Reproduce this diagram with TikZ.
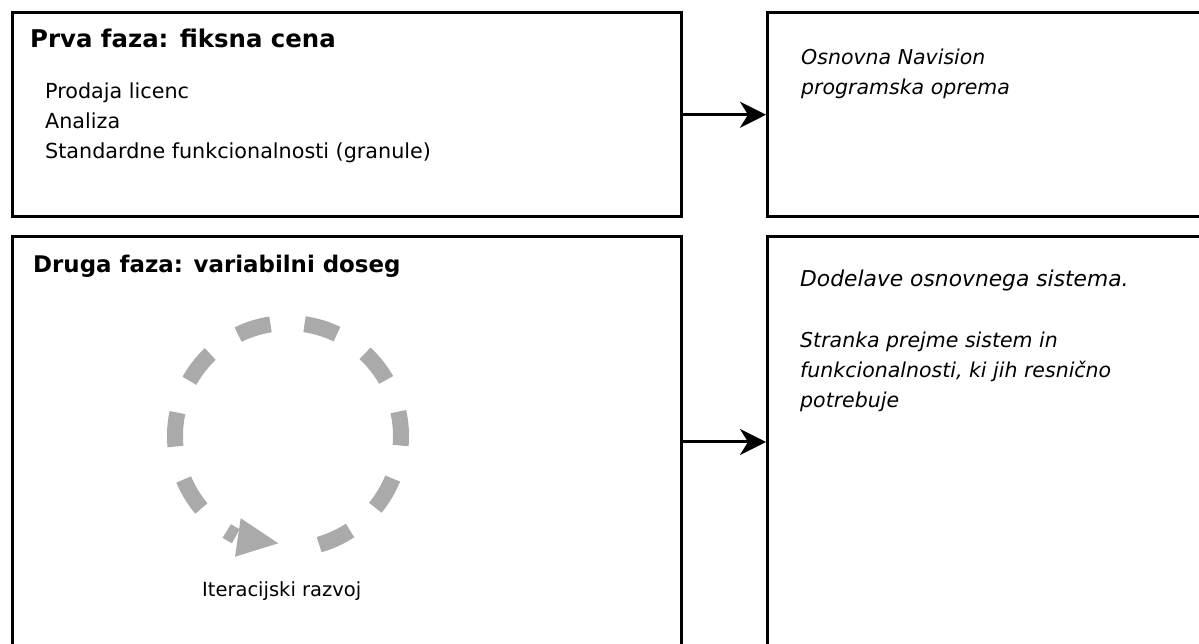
\documentclass[tikz,border=0pt]{standalone}
\usepackage{fontspec}
\setmainfont{DejaVu Sans}
\usetikzlibrary{arrows.meta}
\definecolor{loopgray}{HTML}{AAAAAA}
\tikzset{
  phasebox/.style={draw=black, line width=3pt, rectangle, inner sep=0pt},
  flow/.style={draw=black, line width=3pt, -{Stealth[length=26pt,width=26pt,inset=8pt]}},
  heading/.style={anchor=base west, inner sep=0pt, font=\bfseries},
  item/.style={anchor=base west, inner sep=0pt, font=\fontsize{20.7}{24}\selectfont},
  result/.style={anchor=base west, inner sep=0pt, font=\fontsize{20.5}{24}\selectfont\itshape},
  caption/.style={anchor=base, inner sep=0pt, font=\fontsize{19.5}{23}\selectfont},
  loop/.style={draw=loopgray, line width=16pt, dash pattern=on 34.1pt off 34.1pt}
}
\begin{document}
\begin{tikzpicture}[x=1pt, y=1pt]
\useasboundingbox (0,0) rectangle (1199,644);

% phase boxes (left) and outcome boxes (right)
\node[phasebox, minimum width=669pt, minimum height=204.5pt] (p1) at (347,529.25) {};
\node[phasebox, minimum width=669pt, minimum height=410pt] (p2) at (347,202) {};
\node[phasebox, minimum width=447.5pt, minimum height=204.5pt] (o1) at (991.25,529.25) {};
\node[phasebox, minimum width=447.5pt, minimum height=410pt] (o2) at (991.25,202) {};

% phase -> outcome
\draw[flow] (p1.east) -- (o1.west);
\draw[flow] (p2.east) -- (o2.west);

% first phase
\node[heading, font=\fontsize{24.4}{28}\selectfont\bfseries] (h1) at (30,596) {Prva faza: fiksna cena};
\node[item] (i1) at (45,545) {Prodaja licenc};
\node[item] (i2) at (45,515) {Analiza};
\node[item] (i3) at (45,485) {Standardne funkcionalnosti (granule)};

\node[result] (r1) at (801,579) {Osnovna Navision};
\node[result] (r2) at (801,549) {programska oprema};

% second phase
\node[heading, font=\fontsize{22.9}{27}\selectfont\bfseries] (h2) at (33,371.3) {Druga faza: variabilni doseg};

\node[result, font=\fontsize{21.8}{25}\selectfont\itshape] (s1) at (800,357.3) {Dodelave osnovnega sistema.};
\node[result] (s2) at (800,296) {Stranka prejme sistem in};
\node[result] (s3) at (800,266) {funkcionalnosti, ki jih resnično};
\node[result] (s4) at (800,236) {potrebuje};

% iteration loop
\coordinate (c) at (288,208);
\draw[loop] (c) ++(-74:113) arc[start angle=-74, end angle=242.5, radius=113];
\fill[loopgray] (240.7,125.7) -- (278.3,100.7) -- (235,87.3) -- cycle;
\node[caption] (cap) at (281.7,47.3) {Iteracijski razvoj};
\end{tikzpicture}
\end{document}
